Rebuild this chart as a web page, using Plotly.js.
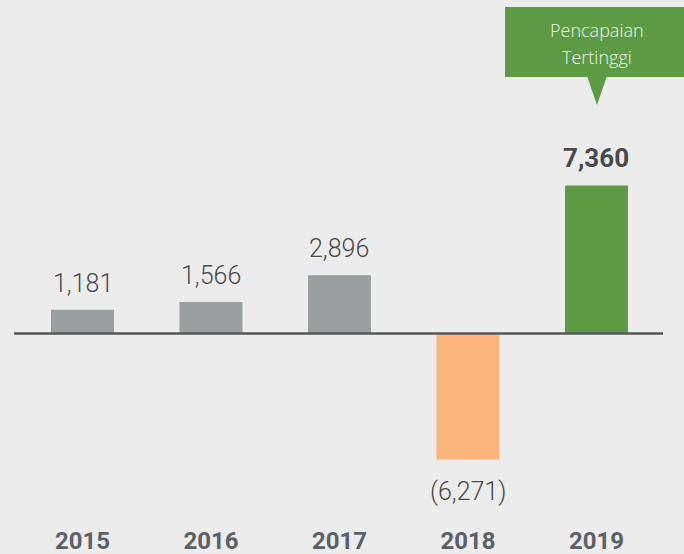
<!DOCTYPE html>
<html><head><meta charset="utf-8">
<script src="https://cdn.plot.ly/plotly-3.0.1.min.js"></script>
<style>html,body{margin:0;padding:0;background:#ececec;}</style>
</head><body>
<div id="chart" style="width:684px;height:554px;"></div>
<script>
const years = ['2015','2016','2017','2018','2019'];
const values = [1181, 1566, 2896, -6271, 7360];
const barColors = ['#999ea1','#999ea1','#999ea1','#fbb57b','#5d9a44'];
const labels = ['1,181','1,566','2,896','(6,271)','<b>7,360</b>'];
const calloutLines = ['Pencapaian','Tertinggi'];

const numFont = 'Roboto, sans-serif';

const annotations = years.map((y,i)=>({
  x: i, y: values[i], xref:'x', yref:'y',
  text: labels[i], showarrow:false, xanchor:'center',
  yanchor: values[i] >= 0 ? 'bottom' : 'top',
  yshift: values[i] >= 0 ? 10 : -15,
  font:{family:numFont, size: i===4 ? 26 : 25, color:'#4a4a4a', weight: i===4 ? 'bold' : 300}
}));
calloutLines.forEach((t,k)=>{
  annotations.push({x:597/684, y:1-(30+27*k)/524, xref:'paper', yref:'paper',
    text:t, showarrow:false, xanchor:'center', yanchor:'middle',
    font:{family:'Open Sans, sans-serif', size:18, color:'#eef3e8', weight:300}});
});

const data = [{
  type:'bar', x: years, y: values, width:0.49,
  marker:{color:barColors}, hoverinfo:'none'
}];

const layout = {
  width:684, height:554,
  margin:{l:0,r:0,t:0,b:30,pad:0},
  paper_bgcolor:'#ececec', plot_bgcolor:'#ececec',
  showlegend:false,
  xaxis:{type:'category', range:[-0.642,4.681], showgrid:false, zeroline:false,
    showline:false, ticks:'', ticklabelstandoff:0,
    tickfont:{family:numFont, size:24, color:'#5b6167', weight:'bold'}},
  yaxis:{range:[-9473,16584], showgrid:false, zeroline:false, showticklabels:false, showline:false},
  shapes:[
    {type:'line', xref:'x', yref:'y', x0:-0.533, x1:4.518, y0:0, y1:0,
      line:{color:'#555759', width:2.5}},
    {type:'rect', xref:'paper', yref:'paper', x0:505/684, x1:1.0, y0:1-77/524, y1:1-7/524,
      fillcolor:'#5d9a44', line:{width:0}},
    {type:'path', xref:'paper', yref:'paper',
      path:`M ${587/684} ${1-76/524} L ${607/684} ${1-76/524} L ${597/684} ${1-105/524} Z`,
      fillcolor:'#5d9a44', line:{width:0}}
  ],
  annotations: annotations
};
Plotly.newPlot('chart', data, layout, {staticPlot:true, displayModeBar:false});
</script>
</body></html>
